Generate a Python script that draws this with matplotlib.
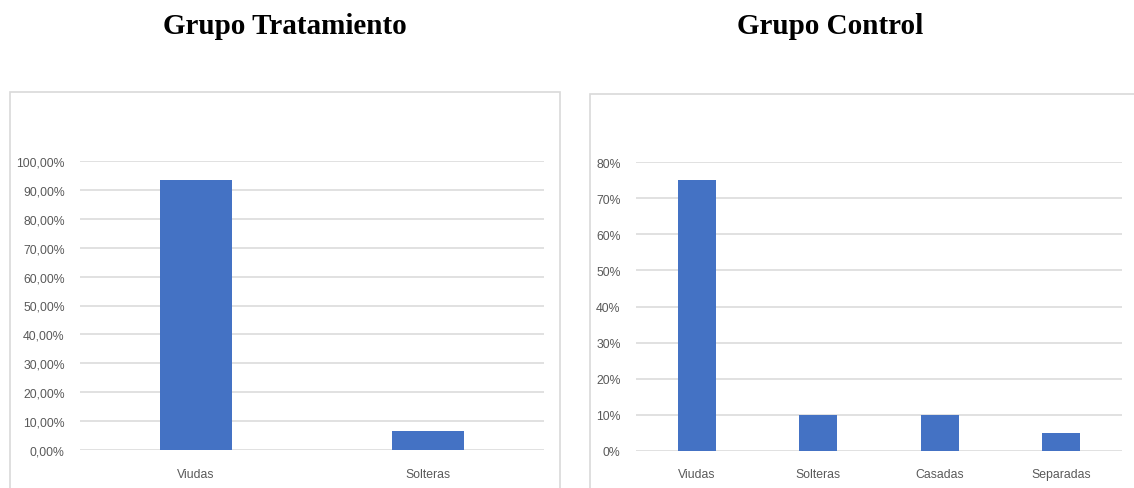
import matplotlib.pyplot as plt
from matplotlib.patches import Rectangle
from matplotlib.ticker import FuncFormatter

# datos de estado civil por grupo
cat_trat = ["Viudas", "Solteras"]
val_trat = [0.9333, 0.0667]
ticks_trat = [0.0, 0.1, 0.2, 0.3, 0.4, 0.5, 0.6, 0.7, 0.8, 0.9, 1.0]

cat_ctrl = ["Viudas", "Solteras", "Casadas", "Separadas"]
val_ctrl = [0.75, 0.10, 0.10, 0.05]
ticks_ctrl = [0.0, 0.1, 0.2, 0.3, 0.4, 0.5, 0.6, 0.7, 0.8]

W, H = 1134, 489
azul = "#4472C4"
gris = "#D9D9D9"
texto = "#595959"
fuente = ["Liberation Sans Narrow", "Liberation Sans"]

fig = plt.figure(figsize=(W / 100, H / 100), dpi=100)
fig.patch.set_facecolor("white")

def px(x0, y0, x1, y1):
    # caja en pixeles -> fraccion de figura
    return [x0 / W, 1 - y1 / H, (x1 - x0) / W, (y1 - y0) / H]

# marcos de los graficos
for (x0, y0, x1, y1) in [(10, 93, 560, 520), (590, 95, 1160, 520)]:
    fig.add_artist(Rectangle((x0 / W, 1 - y1 / H), (x1 - x0) / W, (y1 - y0) / H,
                             transform=fig.transFigure, fill=False,
                             edgecolor=gris, linewidth=1.2))

def grafico(rect, cats, vals, ticks, ymax, fmt, xpad):
    ax = fig.add_axes(rect)
    x = range(len(cats))
    ax.bar(x, vals, width=0.31, color=azul, zorder=3)
    ax.set_xlim(-0.5, len(cats) - 0.5)
    ax.set_ylim(0, ymax)
    ax.set_yticks(ticks)
    ax.yaxis.set_major_formatter(FuncFormatter(fmt))
    ax.set_xticks(list(x))
    ax.set_xticklabels(cats)
    ax.grid(axis="y", color=gris, linewidth=1.1, zorder=0)
    for s in ax.spines.values():
        s.set_visible(False)
    ax.tick_params(length=0, labelsize=8.8, labelcolor=texto)
    ax.tick_params(axis="y", pad=11)
    ax.tick_params(axis="x", pad=xpad)
    for lab in ax.get_xticklabels() + ax.get_yticklabels():
        lab.set_fontfamily(fuente)
    return ax

grafico(px(80, 162, 544, 451), cat_trat, val_trat, ticks_trat, 1.0,
        lambda v, p: f"{v * 100:.2f}%".replace(".", ","), 13)
grafico(px(636, 163, 1122, 452), cat_ctrl, val_ctrl, ticks_ctrl, 0.8,
        lambda v, p: f"{v * 100:.0f}%", 12)

fig.text(285 / W, 1 - 27 / H, "Grupo Tratamiento", ha="center", va="center",
         fontsize=21, fontweight="bold", family="Liberation Serif")
fig.text(830 / W, 1 - 27 / H, "Grupo Control", ha="center", va="center",
         fontsize=21, fontweight="bold", family="Liberation Serif")

fig.savefig("out.png", dpi=100)
